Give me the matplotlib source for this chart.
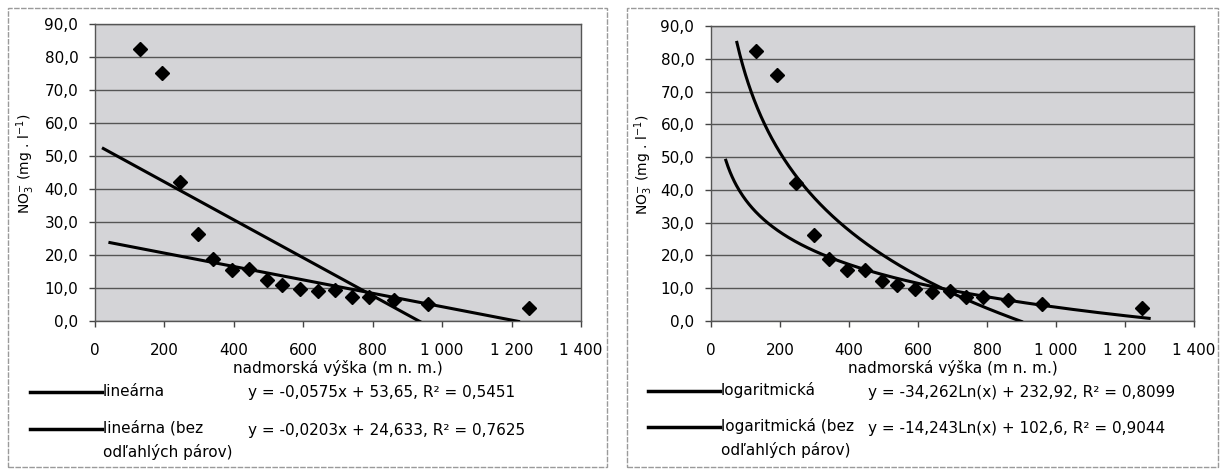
import matplotlib
matplotlib.use('Agg')
import matplotlib.pyplot as plt
import numpy as np
from matplotlib.lines import Line2D
from matplotlib.patches import Rectangle

# ---- data ----
altitude = [130, 192, 245, 298, 341, 394, 445, 495, 538, 591, 641, 692, 740, 788, 860, 960, 1249]
no3 = [82.5, 75.0, 42.0, 26.3, 18.8, 15.6, 15.7, 12.3, 11.0, 9.7, 9.0, 9.3, 7.2, 7.2, 6.4, 5.2, 3.9]

# trendline coefficients (from the equations printed on the chart)
lin_all = [-0.0575, 53.65]
lin_clean = [-0.0203, 24.633]
log_all = [-34.262, 232.92]
log_clean = [-14.243, 102.6]
# x-range over which each trendline is drawn
lin_all_range = [24, 940]
lin_clean_range = [43, 1220]
log_all_range = [75, 900]
log_clean_range = [43, 1270]

x_ticks = [0, 200, 400, 600, 800, 1000, 1200, 1400]
x_tick_labels = ['0', '200', '400', '600', '800', '1 000', '1 200', '1 400']
y_ticks = [0, 10, 20, 30, 40, 50, 60, 70, 80, 90]
y_tick_labels = ['0,0', '10,0', '20,0', '30,0', '40,0', '50,0', '60,0', '70,0', '80,0', '90,0']

x_label = 'nadmorská výška (m n. m.)'
y_label = r'NO$_3^{-}$ (mg . l$^{-1}$)'

legend_left = [['lineárna'], ['lineárna (bez', 'odľahlých párov)']]
eq_left = ['y = -0,0575x + 53,65, R² = 0,5451', 'y = -0,0203x + 24,633, R² = 0,7625']
legend_right = [['logaritmická'], ['logaritmická (bez', 'odľahlých párov)']]
eq_right = ['y = -34,262Ln(x) + 232,92, R² = 0,8099', 'y = -14,243Ln(x) + 102,6, R² = 0,9044']

plt.rcParams['font.family'] = ['DejaVu Sans']
plt.rcParams['mathtext.default'] = 'regular'

W, H = 1222, 470
fig = plt.figure(figsize=(W / 100, H / 100), dpi=100)
fig.patch.set_facecolor('white')


def fx(px):
    return px / W


def fy(py):
    return 1 - py / H


FS = 11
BG = '#d4d4d7'


def make_axes(x0, x1, y0, y1, ylab_px):
    ax = fig.add_axes([fx(x0), fy(y1), fx(x1) - fx(x0), fy(y0) - fy(y1)])
    ax.set_facecolor(BG)
    ax.set_xlim(0, 1400)
    ax.set_ylim(0, 90)
    ax.set_xticks(x_ticks)
    ax.set_xticklabels(x_tick_labels, fontsize=FS)
    ax.set_yticks(y_ticks)
    ax.set_yticklabels(y_tick_labels, fontsize=FS)
    ax.tick_params(direction='out', length=4, width=1, color='#444444', pad=8)
    ax.tick_params(axis='x', pad=12)
    ax.grid(axis='y', color='#555555', linewidth=1)
    ax.set_axisbelow(True)
    for s in ax.spines.values():
        s.set_color('#555555')
        s.set_linewidth(1)
    ax.set_xlabel(x_label, fontsize=FS, labelpad=1)
    ax.set_ylabel(y_label, fontsize=10)
    ax.yaxis.set_label_coords((ylab_px - x0) / (x1 - x0), 0.53)
    ax.plot(altitude, no3, linestyle='none', marker='D', markersize=7.5,
            color='black', zorder=3)
    return ax


axL = make_axes(95, 581, 24, 321, 37)
axR = make_axes(711, 1194, 26, 321, 655)

# linear trendlines
for coef, rng in [(lin_all, lin_all_range), (lin_clean, lin_clean_range)]:
    xs = np.linspace(rng[0], rng[1], 200)
    axL.plot(xs, coef[0] * xs + coef[1], color='black', linewidth=2.2, zorder=4)

# logarithmic trendlines
for coef, rng in [(log_all, log_all_range), (log_clean, log_clean_range)]:
    xs = np.linspace(rng[0], rng[1], 400)
    axR.plot(xs, coef[0] * np.log(xs) + coef[1], color='black', linewidth=2.2, zorder=4)

# panel borders
for (x0, y0, x1, y1) in [(8, 8, 607, 467), (627, 8, 1218, 467)]:
    fig.add_artist(Rectangle((fx(x0), fy(y1)), fx(x1) - fx(x0), fy(y0) - fy(y1),
                             transform=fig.transFigure, fill=False,
                             edgecolor='#9a9a9a', linewidth=1, linestyle=(0, (4, 1))))


# legends
def legend(line_x0, line_x1, eq_x, labels, eqs, rows):
    for lab_lines, eq, ry in zip(labels, eqs, rows):
        fig.add_artist(Line2D([fx(line_x0), fx(line_x1)], [fy(ry), fy(ry)],
                              transform=fig.transFigure, color='black', linewidth=2.5))
        for i, t in enumerate(lab_lines):
            fig.text(fx(line_x1 + 1), fy(ry - 1 + 24 * i), t, fontsize=FS,
                     va='center', ha='left')
        fig.text(fx(eq_x), fy(ry + 1), eq, fontsize=FS, va='center', ha='left')


legend(30, 102, 248, legend_left, eq_left, [392, 429])
legend(648, 720, 868, legend_right, eq_right, [391, 427])

fig.savefig('out.png', dpi=100, facecolor='white')
